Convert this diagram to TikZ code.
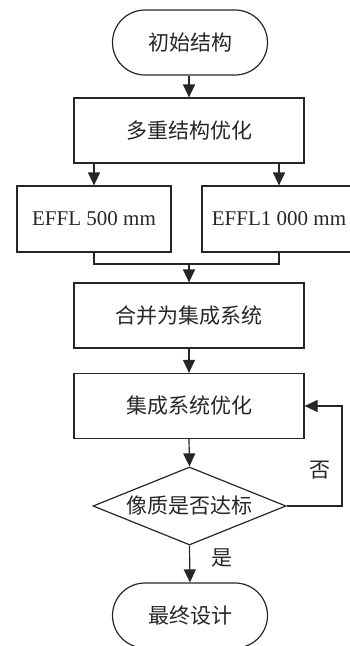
\documentclass[tikz,border=0pt]{standalone}
\usepackage{fontspec}
\setmainfont{Liberation Serif}
\newfontfamily\cjk{Noto Sans CJK SC}
\usetikzlibrary{arrows.meta,shapes.geometric,shapes.misc}
\begin{document}
\begin{tikzpicture}[x=1pt,y=-1pt,
  every node/.style={font=\fontsize{21}{25}\selectfont, text=black!85},
  line/.style={line width=1.2pt,draw=black!85},
  arr/.style={line, -{Triangle[width=12pt,length=13pt]}},
  proc/.style={line, rectangle, inner sep=0pt, minimum width=230pt, minimum height=65pt},
  effl/.style={line, rectangle, inner sep=0pt, minimum width=154pt, minimum height=66pt},
  term/.style={line, rounded rectangle, inner sep=0pt, minimum width=155pt, minimum height=65pt},
  decis/.style={line, diamond, aspect=2.47, inner sep=0pt, minimum width=193pt, minimum height=78pt},
  lbl/.style={inner sep=0pt}]
\useasboundingbox (0,0) rectangle (350,646);
\clip (0,0) rectangle (350,646);
\node[term] (start) at (190,42.5) {\cjk 初始结构};
\node[proc] (b1) at (189,130.5) {\cjk 多重结构优化};
\node[effl] (e1) at (94,219) {EFFL 500 mm};
\node[effl] (e2) at (279,219) {EFFL1 000 mm};
\node[proc] (b3) at (189,315.5) {\cjk 合并为集成系统};
\node[proc] (b4) at (189,406) {\cjk 集成系统优化};
\node[decis] (dia) at (189.5,506) {\cjk 像质是否达标};
\node[term] (fin) at (190,615.5) {\cjk 最终设计};
\coordinate (m) at (189,264);
\coordinate (fb) at (342,506);
\node[lbl] (no) at (320,470) {\cjk 否};
\node[lbl] (yes) at (222,558) {\cjk 是};
\draw[arr] (start.south -| b1.north) -- (b1.north);
\draw[arr] (b1.south -| e1.north) -- (e1.north);
\draw[arr] (b1.south -| e2.north) -- (e2.north);
\draw[line] (e1.south) |- (m);
\draw[line] (e2.south) |- (m);
\draw[arr] (m) -- (b3.north);
\draw[arr] (b3.south) -- (b4.north);
\draw[arr] (b4.south) -- (dia.north);
\draw[arr] (dia.east) -- (fb) |- (b4.east);
\draw[arr] (dia.south) -- (fin.north);
\end{tikzpicture}
\end{document}
